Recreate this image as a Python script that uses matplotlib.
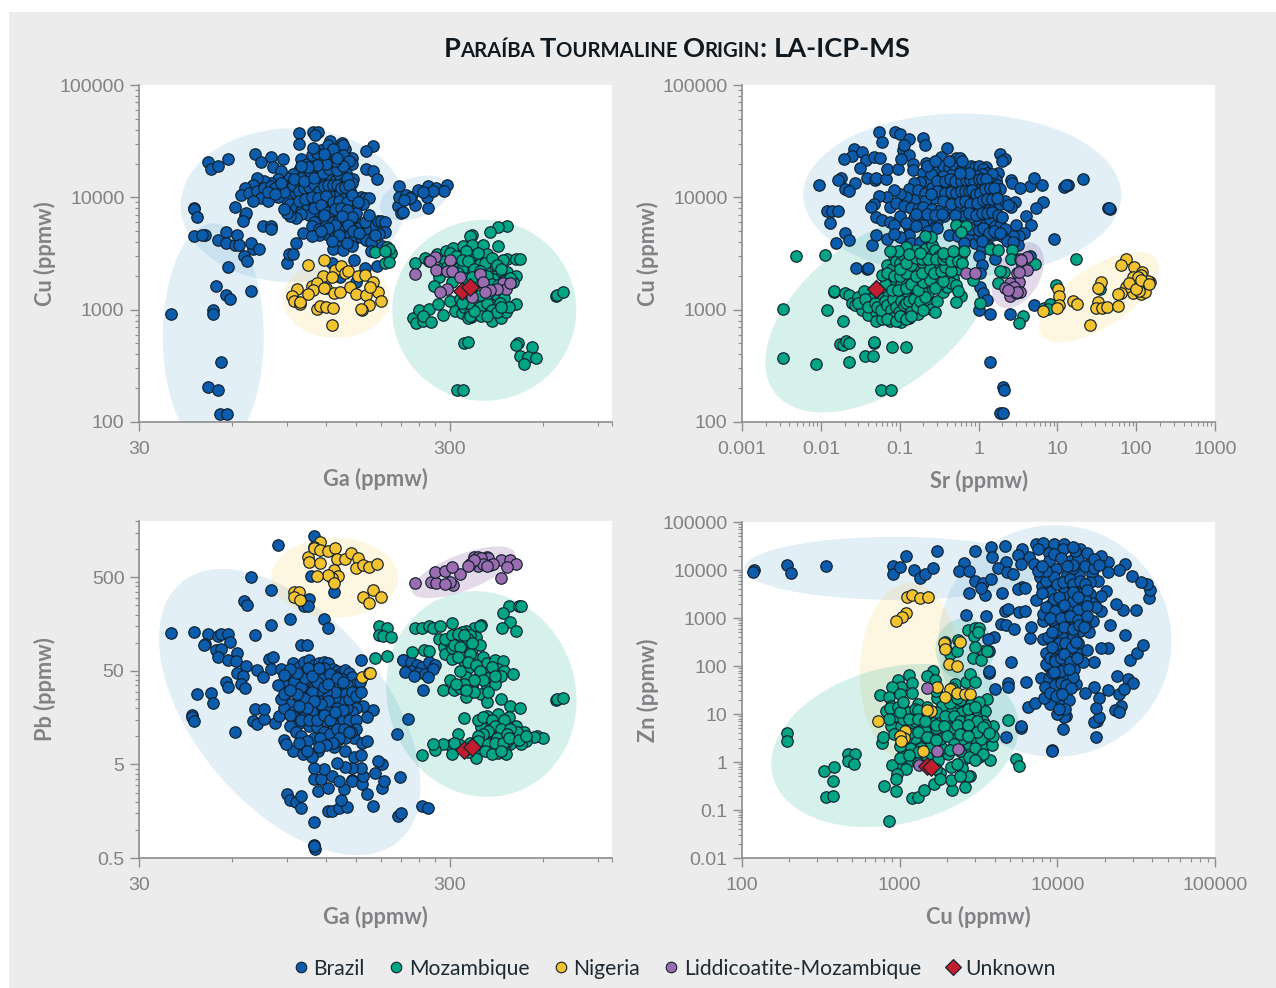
"""
Paraiba tourmaline origin chart, LA-ICP-MS trace element scatter panels.
All point values are in ppmw and were read off the printed figure.
"""
import matplotlib
matplotlib.use("Agg")
import matplotlib.pyplot as plt
from matplotlib.lines import Line2D
from matplotlib.patches import Ellipse, Rectangle
from matplotlib.ticker import LogLocator, NullFormatter
from matplotlib.transforms import IdentityTransform

plt.rcParams["font.family"] = ["Liberation Sans", "DejaVu Sans"]

W, H = 1276, 988

# Ga vs Cu
BRAZIL_GA_CU = [(38,920),(52,990),(52,915),(53,1620),(57,1350),(59,1240),(69,1460),(58,2380),(55,340),(50,206),(54,194),(54.5,119),(57.7,119),
    (50,20800),(51,17800),(54,19000),(58,22000),(45,8000),(45,7800),(46,6700),(45,4500),(49,4650),(48,4600),(54,4150),(57,4900),(57,3950),(61,3800),(62,4600),(63,3800),
    (70,3500),(69,3900),(73,3500),(65.5,3000),(67,2700),(75,5600),(80,5600),(80,5200),(90,2600),(91,3150),(94,3100),(96,3900),(101,4800),(61,8200),(66,7000),(66.5,7200),(65,6100),
    (71,24400),(74,20500),(80,22800),(87,21900),(81,18500),(98,37700),(98,29900),(109,38000),(113,38500),(111,36000),(124,32000),(135,30500),(138,27000),(136,29000),
    (170,28500),(162,25700),(146,22500),(145,19800),(162,17800),(170,17200),(175,14600),(139,16600),(147,14600),(146,13300),
    (206,12700),(205,8400),(209,7300),(212,7400),(206,10000),(217,10500),(225,10000),(232,8500),(255,8000),(238,11600),(256,12500),(272,12200),(295,13000),(288,11500),(253,10150),(265,11500),(224,9800),(246,11200),(214,9500),
    (100,22000),(104,20000),(108,24000),(112,26000),(116,22000),(120,27000),(124,23000),(128,25000),(132,20000),(118,18500),(110,18000),(126,19000),(136,24000),(142,21000),(122,17000),(114,15500),(106,16500),(98,17500),(94,16000),(90,15000),(86,17000),(84,14500),(80,13500),(76,14000),(72,14800),(70,13000),(66,12000),(64,10500),(68,11000),(72,11500),(76,12000),(80,12500),(84,11500),(88,13000),(92,12000),(96,13500),(100,15000),(104,13000),(108,14000),(112,12500),(116,13500),(120,14500),(124,15500),(128,14000),(132,16000),(136,13500),(140,15000),(128,12000),(124,11500),(118,11000),(112,10500),(106,11000),(100,10500),(94,10000),(90,9500),(84,10000),(78,10200),(74,9800),(70,9300),(78,9200),(92,8800),(96,8000),(100,7600),(104,8500),(108,9300),(113,8800),(118,9200),(123,9800),(128,10200),(133,11000),(138,10000),(143,11500),(148,9600),(155,10000),(160,9800),(165,9900),(158,8800),(150,8500),(143,8300),(136,8800),(130,8400),(124,8200),(118,7900),(112,7400),(106,6900),(100,7100),(96,6500),(92,6800),(90,7300),(88,7800),(145,7500),(150,7200),(140,7000),(134,7400),(128,6900),(122,6700),(116,6300),(110,6000),(108,5500),(114,5200),(120,5600),(126,6000),(132,6300),(138,6200),(144,6100),(150,5700),(156,5800),(165,5000),(170,5500),(176,6100),(160,5200),(152,5300),(144,5200),(138,5500),(132,5100),(126,4900),(120,4700),(114,4600),(108,4500),(128,4400),(134,4200),(142,4500),(148,4300),(155,4400),(162,4200),(168,4000),(137,3900),(130,3700),(126,3500),(136,3400),(145,3700),(180,6100),(186,6000),(186,4900),(178,4700),
    (148,2750),(168,3300),(182,3700),(160,2340),(175,2450),(125,2600),(133,1950),(150,1750),(116,26500),(122,29500),(112,25000),(109,27500),
    (88,11200),(94,12800),(98,11500),(102,12000),(106,12400),(110,13200),(114,11500),(118,12500),(122,13000),(126,13000),(130,13000),(134,12000),(138,12300),(142,13000),(95,14500),(102,14000),(110,15000),(117,16500),(123,18000),(130,17500),(136,19000),(128,21000),(120,20000),(112,19500),(105,18500),(100,19000),(126,27000),(118,24500),(130,22500),(82,12000),(86,13500),(78,11200),(82,10800),(98,9200),(103,9700),(108,10100),(113,9900),(120,10200),(126,9000),(132,9300),(140,9000),(146,10500),(152,9000),(110,8000),(116,8500),(122,7400),(128,7800),(134,8000),(140,7700),(146,6700),(135,6800),(128,5700),(122,5300),(116,5000),(118,6900),(141,5700),(147,5000),(153,4800),(160,6000),(165,7000),(172,4600),(132,4600),(125,4100),(140,3900)]
MOZ_GA_CU = [(460,5600),(430,5400),(405,4900),(355,4600),(350,4500),(660,1320),(665,1340),(695,1450),(335,505),(345,520),(318,194),(332,194),(498,500),(490,485),(553,470),(505,385),(535,377),(570,375),(520,330),
    (228,845),(233,760),(247,800),(240,990),(257,1015),(247,885),(262,770),(275,1120),(300,1190),(285,895),(312,970),(330,930),(172,3250),(188,3600),(195,3170),(186,2580),(191,3500),(186,3300),(191,2650),
    (232,2590),(250,2900),(258,2700),(273,3100),(292,3300),(307,3550),(332,3700),(355,3800),(385,3750),(430,3700),(395,3100),(355,3050),(375,2550),(405,2450),(460,2800),(490,2800),(505,2800),(445,2750),(430,2200),(460,2150),(490,2000),(480,1780),(415,1880),(370,1750),(305,1750),(278,1950),(268,1640),(312,2450),(345,2050),(375,1800),(305,2850),(370,3200),
    (325,1250),(352,1300),(375,1220),(415,1290),(450,1260),(490,1120),(430,1100),(390,1010),(365,960),(352,860),(412,785),(440,835),(455,960),(335,1060),(350,930),(368,1100),(405,1130),(422,955),(345,850),(348,880),(380,1000),(435,1150),(465,1050),(330,2300),(290,2700),(340,3350),(420,2500),(280,2300),
    (300,3200),(315,3000),(330,2750),(345,2700),(360,2300),(390,2600),(410,2900),(425,2500),(440,2300),(295,2400),(320,2100),(335,1900),(355,1950),(375,2200),(395,2000),(410,1700),(430,1650),(450,1800),(470,1900),(340,1250),(360,1150),(375,1050),(395,1150),(410,1000),(425,950),(440,1050),(380,880),(395,880),(360,980),(345,1150),(330,1150),(375,1350),(400,1400),(350,1450)]
NIGERIA_GA_CU = [(105,2500),(118,2750),(128,2270),(134,2470),(117,1990),(125,1960),(138,2100),(141,2230),(152,2000),(160,2050),(108,1640),(112,1710),(109,1500),(97,1520),(93,1320),(95,1190),(99,1120),(99,1160),(105,1370),(120,1570),(127,1420),(133,1440),(143,1580),(150,1370),(162,1350),(176,1450),(170,1750),(166,1580),(180,1190),(165,1100),(157,1000),(155,1010),(112,1010),(115,1080),(120,1060),(126,1030),(125,735),(118,1550)]
LIDD_GA_CU = [(270,2950),(260,2700),(302,2780),(232,2090),(272,2260),(295,2230),(305,2230),(325,1970),(375,2070),(385,1750),(445,1720),(455,1520),(470,1720),(295,1520),(280,1450),(425,1520),(405,1500),(390,1450),(355,1300)]
UNKNOWN_GA_CU = [(330,1480),(350,1590)]

# Sr vs Cu
BRAZIL_SR_CU = [(0.0096,12800),(0.055,38000),(0.06,31000),(0.087,38000),(0.1,36500),(0.13,33000),(0.2,34000),(0.21,29500),(0.4,27500),(0.0265,27000),(0.025,23500),(0.033,25500),(0.0195,22000),(0.037,21500),(0.047,23000),(0.057,22500),(0.031,18200),(0.038,14800),(0.048,14300),(0.05,15000),(0.068,14500),(0.07,18000),(0.018,15000),(0.0165,14300),(0.027,13300),(0.02,11900),(0.023,11400),(0.012,7500),(0.014,7500),(0.0165,7500),(0.013,5900),(0.0205,4800),(0.023,4150),(0.0155,3900),(0.045,3750),(0.05,4650),(0.07,4300),(0.028,2330),(0.039,2300),(0.04,2330),
    (1,1000),(1.4,920),(2.5,920),(5,1100),(1.03,1600),(1.15,1400),(1.3,1220),(1.4,340),(2.05,205),(2.1,193),(1.9,120),(2.05,120),(47,7950),(44,8000),(45,8000),(21,14500),(13.5,13000),(12.3,12300),(12.8,12900),(9,4300),(6.5,9100),(5.3,8000),(6.4,13000),(4.5,12700),(5,15000),(2.6,14300),(2.65,13300),(3.4,12000),(4,6800),(4.6,5700),(2.9,9100),(2.55,8200),(3,5700),(3.8,4800),(3.3,4500),(2.7,4500),(3.2,3800),(4.5,3000),(1.85,24500),(2.2,22000),(2,21000),(1.75,16500),(1.65,14300),(1.25,18700),
    (0.215,20400),(0.33,23000),(0.52,22300),(0.58,22600),(0.11,26500),(0.13,24000),(0.147,20000),(0.115,29000),(0.095,18000),(0.105,22000),(0.147,17500),
    (0.2,16500),(0.25,18000),(0.3,17000),(0.35,19000),(0.42,18500),(0.5,19000),(0.6,17500),(0.7,18000),(0.8,19000),(0.9,18500),(1.0,19000),(1.15,18000),(1.3,16500),(1.5,16000),(1.1,16000),(0.95,15500),(0.8,15000),(0.65,15000),(0.55,15500),(0.45,15800),(0.35,15500),(0.27,14500),(0.22,14000),(0.18,13800),(0.15,13500),(0.13,11800),(0.17,11700),(0.21,11000),(0.26,12000),(0.33,12500),(0.4,13000),(0.48,12500),(0.56,12800),(0.65,12500),(0.74,13500),(0.85,12800),(0.95,12000),(1.08,13300),(1.25,13000),(1.45,13500),(1.7,13000),(1.9,11800),(1.6,11000),(1.35,11000),(1.15,10800),(1.0,9800),(0.85,10500),(0.72,10200),(0.6,10000),(0.5,9500),(0.42,10000),(0.33,10300),(0.27,9800),(0.21,9300),(0.15,9400),(0.12,10000),(0.1,10800),(0.085,11700),(0.07,10000),(0.055,10300),(0.047,8800),(0.043,8200),(0.075,8200),(0.09,8900),(0.115,8400),(0.14,8000),(0.17,7800),(0.2,8200),(0.26,7800),(0.33,7900),(0.42,8000),(0.55,8200),(0.7,8000),(0.88,7500),(1.05,8200),(1.25,8300),(1.4,8200),(1.6,8600),(1.85,8800),(2.2,9300),(2.4,8500),(0.15,6500),(0.18,6100),(0.23,6000),(0.3,6200),(0.37,6800),(0.65,6800),(0.8,6700),(1.0,6200),(1.2,5700),(1.4,6400),(1.6,5500),(1.85,5600),(2.2,5200),(0.05,6700),(0.06,6300),(0.075,6000),(0.1,6800),(0.085,5700),(0.13,5300),(0.2,5700),(0.27,5300),(0.13,4600),(0.1,4400),(0.085,4700),(0.14,3900),(0.18,4000),(0.23,3700),(0.42,4600),(0.55,4500),(0.75,4300),(0.9,3900),(1.0,4500),(1.2,4500),(1.35,3600),(1.5,4600),(1.7,4700),(2,4500),(2.3,4100),(2.7,4000),(1.1,3500),(1.0,3000),(1.6,2800),(0.65,3900),(1.1,2500),(1.05,2100),
    (0.25,16000),(0.3,14000),(0.38,14000),(0.44,14500),(0.5,14000),(0.6,14000),(0.7,14300),(0.78,14200),(0.88,14000),(1.0,14500),(1.1,14500),(1.25,14500),(0.3,11500),(0.38,11000),(0.45,11200),(0.52,11000),(0.6,11500),(0.68,11500),(0.75,11500),(0.83,11600),(0.92,10800),(1.05,11000),(1.2,11900),(1.4,12200),(1.55,12000),(0.25,10600),(0.35,9200),(0.45,8800),(0.58,9000),(0.68,9200),(0.78,8800),(0.95,8900),(1.15,9500),(1.3,9600),(1.5,9600),(1.7,9800),(0.16,7100),(0.22,7100),(0.28,6900),(0.34,7100),(0.5,7000),(0.75,7300),(0.92,6900),(1.1,7200),(1.3,7200),(1.5,7400),(1.75,7000),(2,6700),(0.12,5900),(0.16,5500),(0.23,5000),(0.3,5300),(0.6,5500),(0.8,5200),(1.0,5100),(1.15,5300),(1.35,4800),(1.55,5000),(1.9,4800),(1.1,4100),(0.22,19000),(0.28,21000),(0.42,21000),(0.62,21000),(0.75,16500),(0.58,16500)]
MOZ_SR_CU = [(0.0033,1020),(0.0033,373),(0.0088,330),(0.0226,340),(0.0049,3000),(0.0113,3050),(0.012,985),(0.019,800),(0.0146,1450),(0.0147,1460),(0.0177,490),(0.019,480),(0.021,530),(0.0225,510),(0.047,500),(0.047,515),(0.08,470),(0.122,470),(0.036,385),(0.0465,385),(0.058,194),(0.078,194),
    (17,2830),(3.7,880),(3.3,755),(9.5,1660),(35,1530),(6.8,1030),(8,1120),(7.6,1010),(1.05,1140),(5.2,2550),(1.75,1720),(2.1,2150),(1.9,2200),(0.86,1850),(0.52,5700),(0.7,5600),(0.6,4900),(1.4,3450),(1.75,3400),(2.65,3400),(2.6,2850),(0.6,1330),(0.52,1180),
    (0.02,1400),(0.023,1350),(0.025,1150),(0.027,1100),(0.03,1300),(0.035,1480),(0.033,1000),(0.037,1150),(0.04,900),(0.042,1250),(0.045,1050),(0.05,950),(0.05,800),(0.055,1150),(0.06,1280),(0.06,820),(0.065,1050),(0.07,950),(0.072,1320),(0.075,790),(0.08,1150),(0.085,1000),(0.09,900),(0.095,1300),(0.1,1100),(0.105,780),(0.11,880),(0.11,1450),(0.12,1000),(0.125,1280),(0.13,850),(0.14,1150),(0.15,1020),(0.16,1350),(0.17,920),(0.19,1100),(0.22,1200),(0.25,1010),(0.28,960),(0.3,1200),(0.35,1450),(0.4,1600),(0.32,1680),(0.27,1750),(0.22,1600),(0.18,1750),(0.15,1600),(0.13,1850),(0.11,1700),(0.09,1650),(0.075,1780),(0.065,1700),(0.06,2050),(0.07,2500),(0.08,2300),(0.085,3000),(0.09,2700),(0.1,2600),(0.105,3300),(0.11,2350),(0.115,3000),(0.13,2750),(0.14,2200),(0.15,2700),(0.17,3000),(0.18,2300),(0.2,2600),(0.21,3500),(0.22,2150),(0.25,3000),(0.26,3800),(0.28,3400),(0.3,2500),(0.32,3000),(0.36,2250),(0.4,2600),(0.43,3100),(0.5,2950),(0.55,3200),(0.6,3000),(0.65,3300),(0.5,2400),(0.57,2300),(0.48,1900),(0.4,2000),(0.3,1950),(0.25,4400),(0.21,4500),(0.16,3400),(0.12,3600),(0.095,3350),(0.075,3300),(0.45,1720),(0.52,1650),(0.55,1480),(0.23,1400),(0.19,1450),
    (0.03,1150),(0.036,1250),(0.04,1050),(0.048,1150),(0.052,1050),(0.058,1000),(0.065,1200),(0.07,1100),(0.078,1000),(0.082,1250),(0.09,1050),(0.098,950),(0.105,1200),(0.115,1100),(0.12,1150),(0.13,1200),(0.14,950),(0.15,1250),(0.165,1050),(0.18,1200),(0.2,1000),(0.21,1300),(0.08,850),(0.07,830),(0.09,800),(0.1,870),(0.12,820),(0.14,880),(0.08,1500),(0.095,1500),(0.12,1550),(0.14,1700),(0.17,1500),(0.2,1750),(0.24,1850),(0.28,1550),(0.35,1800),(0.07,2100),(0.085,2000),(0.1,2000),(0.12,2100),(0.14,2500),(0.16,2000),(0.19,2100),(0.24,2300),(0.27,2100),(0.33,2200),(0.38,2400),(0.45,2200),(0.1,2300),(0.12,2600),(0.16,2900),(0.19,2800),(0.23,2800),(0.29,2800),(0.35,2800),(0.38,3000),(0.45,2700),(0.55,2700),(0.62,2600),(0.13,3100),(0.18,3200),(0.35,3200),(0.47,3300)]
NIGERIA_SR_CU = [(75,2800),(65,2500),(95,2400),(120,2150),(115,2050),(90,1950),(150,1750),(140,1800),(115,1580),(95,1500),(90,1400),(115,1380),(130,1450),(75,1600),(65,1400),(58,1380),(36,1770),(33,1550),(33,1180),(31,1030),(37,1030),(43,1060),(59,1080),(26,735),(16,1200),(18,1120),(10.2,1520),(10.5,1320),(10.5,1100),(9.9,1040),(6.5,980),(105,1970),(110,1480),(82,1720),(100,1520),(115,1820),(145,1700)]
LIDD_SR_CU = [(0.7,2100),(0.91,2100),(4.1,2950),(3.4,2850),(3.6,2500),(4.1,2250),(3.1,2100),(3.3,1770),(2.5,1720),(2.2,1550),(2.6,1500),(3.4,1440),(2.5,1330),(3,1400),(2.85,1600),(3.1,1450),(3.5,2780),(3.3,2150),(2.4,1500)]
UNKNOWN_SR_CU = [(0.05,1520),(0.0505,1540)]

# Ga vs Pb
BRAZIL_GA_PB = [(110,1390),(84,1115),(69,500),(80,365),(65.5,280),(67,255),(107,520),(127,345),(106,295),(102,245),(105,245),(92,180),(80,155),(118,178),(122,142),(38,128),(45,129),(50,123),(49,97),(48.5,95),(54,117),(55,125),(58,123),(59,102),(53,84),(55,85),(54,70),(58,66),(62,78),(61.5,64),(71,120),(100,95),(104,94),(66.5,56),(72,51),(62,47),(65,44),(57,38),(58,34),(64,36),(66,33),(46,28),(51,29),(52,22.5),(44.5,17),(44.5,16),(45,14.5),(61,11),(70,14.6),(72,13.5),(76,15.2),(88,9.1),(82,14),(78.5,67),(81,71),(80,52),(75,43),(71,19.5),(76,19.5),(85,16.5),
    (203,10.5),(220,15.3),(247,31),(207,3.7),(245,1.8),(255,1.7),(205,1.4),(210,1.5),(212,66),(155,66),(170,19.2),(158,21),(163,16),(90,2.4),(92,2.1),(96,2),(100,1.7),(100,2.3),(110,1.2),(110,0.69),(111,0.63),(110,0.68),(122,1.6),(125,1.6),(132,1.7),(140,1.75),(134,2.1),(137,2.7),(113,2.6),(122,2.8),(110,3.5),(116,3.5),(125,3.8),(132,3.3),(146,3.4),(146,3.3),(157,3.1),(163,2.4),(170,1.8),(182,2.8),(185,3.3),(172,4.1),(182,5),(177,5.5),(158,3.8),(156,4.6),(146,4.6),(138,4.7),(130,5.2),(118,4.5),(110,4.6),(113,7),(127,7.7),(130,8.9),(138,7),(148,6),(155,6.3),(148,9.5),(157,8.5),(163,8.8),(103,8.4),(94,7),(101,6.4),(108,6),(89,8.2),
    (86,52),(90,48),(94,60),(98,55),(102,62),(106,66),(110,58),(114,60),(118,62),(122,60),(126,53),(130,50),(134,48),(138,51),(142,47),(146,43),(150,36),(154,38),(148,30),(140,35),(135,41),(128,44),(122,46),(116,48),(110,44),(104,46),(98,42),(92,40),(88,36),(84,35),(90,30),(96,33),(102,36),(108,38),(114,35),(120,38),(126,36),(132,31),(138,28),(144,24),(150,20),(146,18),(140,20),(134,23),(128,26),(122,28),(116,26),(110,28),(104,30),(98,25),(92,22),(88,20),(94,18),(100,20),(106,23),(112,21),(118,20),(124,19),(130,16),(136,15),(142,15),(150,15),(126,13.5),(120,14.5),(114,16),(108,18),(102,16),(98,14),(92,13),(96,11),(100,10),(106,13),(112,12.5),(118,11),(124,10.5),(110,9.5),(104,9),(115,9.5),(130,12),(137,12),(110,33),(116,42),(124,32),(132,37),(100,27),(86,25),
    (212,66),(225,62),(235,58),(245,55),(258,62),(270,58),(225,50),(238,48),(250,46),(265,52),(215,49),(230,44),(255,43),
    (88,28),(95,38),(100,34),(103,42),(107,50),(112,52),(118,54),(124,46),(130,42),(136,38),(128,30),(120,30),(114,31),(108,30),(103,25),(97,28),(92,31),(97,48),(92,52),(88,45),(105,54),(112,38),(118,34),(122,24),(116,22),(110,24),(104,20),(98,21),(92,17),(100,15),(106,15),(112,15),(118,17),(124,15),(130,20),(136,19),(142,25),(146,30),(150,27),(155,30),(150,12),(144,11),(138,9.5),(132,9.5),(126,8.5),(120,8),(114,7.6),(98,8.5),(104,7),(142,11),(128,18),(122,36),(108,44),(114,54)]
MOZ_GA_PB = [(660,24.5),(665,25),(695,25.5),(465,245),(445,210),(500,245),(510,247),(470,165),(443,145),(490,135),(178,150),(188,145),(178,120),(183,117),(195,115),(172,68),(188,72),(232,145),(245,142),(257,150),(265,145),(280,150),(305,162),(380,155),(360,142),(340,135),(330,130),(365,115),(375,150),(278,110),(305,108),(328,105),(288,90),(315,80),(340,90),(355,85),(227,79),(248,83),(258,81),(290,76),(305,67),(335,64),(360,68),(385,71),(395,60),(420,65),(445,63),(345,54),(395,48),(430,52),(450,50),(480,46),(440,44),(400,42),(370,42),(340,43),(355,36),(395,34),(420,36),(300,40),(285,31),(310,31),(340,26),(355,34),(325,33),(380,28),(395,23),(440,25),(470,21),(505,20),
    (335,15.5),(395,16.5),(430,17.5),(465,16),(490,13),(520,11),(575,10),(600,9.5),(560,9.8),(530,8.8),(510,8.2),(460,13),(430,13),(400,14),(380,12.5),(410,11),(445,10.5),(480,9.6),(470,8.3),(450,7.5),(430,8.2),(395,9),(365,7.2),(365,5.8),(400,7),(430,6.7),(455,6.4),(397,7.8),(320,10.5),(300,8.1),(285,8.3),(305,6.5),(270,7.2),(245,6.3),(265,8.2),(340,7.5),(375,7.5),(410,9.5),(460,9),(495,11),(420,7.2),(440,7.8),(385,8.2),(415,8.6),(435,9.4),(300,100),(290,110),(320,100),(305,88),(350,120),(375,95),
    (305,120),(320,125),(345,110),(355,100),(335,120),(310,95),(325,90),(350,75),(320,70),(345,62),(365,58),(375,50),(410,55),(420,44),(385,40),(360,40),(335,36),(315,36),(325,50),(360,30),(340,31),(400,30),
    (370,15),(385,16),(410,15),(450,15),(420,13),(440,12),(470,12),(400,11.5),(385,10.5),(370,10),(425,9.5),(460,10.5),(350,8.5),(370,8.8),(400,8.3),(420,8.4),(445,8.4),(465,9.7),(500,9.2),(530,10),(390,7),(410,6.5),(440,7),(345,6.8),(355,7.8),(325,8),(310,8.5)]
NIGERIA_GA_PB = [(105,830),(106,725),(115,1200),(110,1050),(110,1020),(115,980),(122,950),(128,1020),(115,720),(130,780),(138,780),(144,900),(152,800),(150,625),(158,670),(165,640),(175,700),(127,600),(131,520),(125,495),(122,530),(112,520),(127,440),(95,345),(98,350),(95,305),(99,285),(170,370),(180,310),(158,305),(165,265),(157,43),(165,47),(166,47)]
LIDD_GA_PB = [(232,430),(262,445),(272,440),(307,415),(325,545),(270,570),(290,590),(305,650),(360,830),(395,830),(400,795),(370,660),(405,670),(440,760),(470,760),(490,690),(460,640),(440,490),(350,700),(415,700),(370,830),(380,800),(385,700),(395,660),(360,760),(345,660),(300,450),(290,420)]
UNKNOWN_GA_PB = [(335,7.1),(355,7.7)]

# Cu vs Zn
BRAZIL_CU_ZN = [(119,10000),(118,9000),(192,12700),(205,8800),(339,12300),(910,12300),(910,8200),(1010,11400),(1090,20000),(1730,25300),(1230,10000),(1350,6800),(1440,8200),(1620,11000),(3000,25300),(2550,14000),(2380,9700),(2750,9400),(3000,5800),(3800,29700),(3850,18400),(4650,31200),(4700,14500),(4200,11000),(4800,8900),(5250,8200),(3400,5300),(3500,3000),(2750,3300),(4450,3300),(3800,6500),(3300,4300),(6000,4500),(5600,4000),(6200,4200),
    (2650,1170),(3550,1100),(4630,1420),(4850,1530),(5700,1310),(6200,1420),(7300,2350),(4400,750),(4700,700),(5300,590),(3950,400),(3650,370),(6700,380),(6800,650),(8100,880),(8100,370),(3700,210),(5100,120),(3700,72),(3700,80),(4900,44),(4900,37),(4000,33),(6300,46),(5900,5.2),(5900,5.6),(4700,3.3),(10800,4.8),(6500,13.7),(7200,17),(9200,1.75),(9300,1.7),(17600,3.3),(17800,7.2),(17100,6.7),(18500,8.5),(11300,9),(11000,8.5),(9900,10),(9000,16),
    (25200,14.5),(23200,12),(24500,11),(24600,26),(17000,37),(18500,22),(17600,13.5),(21000,32),(24000,63),(28000,54),(30000,45),(26500,33),(29000,136),(20900,240),(19000,240),(32000,190),(35000,270),(27000,440),(21500,720),(31500,1440),(26000,1500),(23500,2000),(38000,2650),(38500,3900),(37000,5200),(34000,5700),(29800,7400),(27000,13300),(24500,10000),(21000,14500),(19000,20000),(20500,3700),(19000,2900),(19000,1370),
    (7300,35000),(8100,37000),(9500,34000),(11000,34000),(14000,27000),(10900,27000),(8800,23000),(7500,27000),(6600,19000),(6000,27000),(5600,21000),(7100,13500),(5900,13500),(8900,15200),(9800,10500),(12000,15500),(15800,13300),(13800,8300),(16500,8300),(11600,8000),(13500,18000),(21000,8900),
    (7800,7000),(8000,4700),(9300,5500),(9000,3400),(8000,3300),(13500,4400),(11500,5200),(11000,3400),(16000,3100),(16700,2100),(14500,1900),(12200,1650),(10500,1600),(9100,1950),(8100,1200),(9700,700),(11000,840),(14000,530),(16800,880),(11700,510),(9800,340),(8700,400),(8500,190),(9900,200),(11400,150),(14000,220),(15800,500),(15500,220),(17000,120),(14500,120),(12700,88),(11500,100),(8800,95),(8500,110),(7900,57),(8800,55),(9900,49),(11500,57),(13200,42),(15000,28),(10800,37),(9700,33),(8400,37),(8200,22),(10500,19),(11900,20),(9000,150),(9700,140),(10500,260),(11900,285),(12700,150),(10000,1200),(9200,900),(13000,1200),(14500,880),(11500,2700),(10300,1650),(14200,3100),(12300,1550),
    (15000,12000),(12500,11000),(17000,11000),(18000,6000),(16000,5500),(12500,2300),(15000,2500),(17500,1700),(13000,700),(15000,700),(10500,450),(12500,400),(13500,300),(11000,120),(12500,60),(10000,75),(9200,70),
    (8500,6000),(9500,7000),(10000,5000),(10800,5700),(12000,6500),(12500,5000),(14000,6000),(15000,5000),(9500,2500),(10200,2800),(12500,3500),(13500,2800),(15500,3800),(8500,1700),(9700,1400),(11000,1900),(13500,1500),(15500,1800),(9000,1000),(10500,1000),(12000,1100),(13500,900),(15500,1100),(10000,550),(11000,650),(12500,600),(13700,700),(14800,650),(9300,500),(10200,300),(11200,300),(12300,250),(13200,320),(9200,250),(9700,130),(10500,150),(11000,180),(12000,120),(13300,150),(10500,80),(9500,75),(11800,85),(9600,40),(10500,45),(11300,40),(12200,35),(9000,28),(9800,24),(10700,26),(11200,13),(10300,13),(12500,13000),(13000,25000),(9500,22000),(12500,30000),(15500,23000),(17000,17000),(18500,12500),(8500,9500),(7500,9500),(8000,12000),(10500,18000),(11500,12000)]
MOZ_CU_ZN = [(193,4.1),(193,2.8),(330,0.66),(385,0.78),(470,1.5),(520,1.5),(470,1.05),(510,0.92),(380,0.4),(340,0.19),(375,0.2),(860,0.06),(800,0.32),(950,0.25),(1190,0.18),(1300,0.185),(1420,0.26),(1640,0.34),(2150,0.26),(2600,0.3),(2800,0.5),(5500,1.13),(5700,0.83),(4900,7.5),
    (2700,550),(3000,630),(3200,630),(2950,430),(3150,500),(3400,210),(3000,245),(2900,150),(3300,135),(3600,205),(1950,320),(2350,340),(2100,180),(2300,205),(1950,250),
    (1620,80),(1500,63),(1680,50),(2250,42),(2650,46),(2800,68),(3000,47),(3600,21),(1140,66),(980,50),(1020,37),(900,37),(1200,44),(750,25),(850,23),(770,2.5),(780,3.3),
    (880,14.5),(1020,14.5),(1150,11),(1300,16),(950,9),(880,5.6),(1020,5.6),(1160,5.2),(1350,5.6),(1620,7.2),(1720,22),(2120,12.5),(2480,11),(2820,16),(3500,11.5),(3400,7.2),(3050,9),(2500,7.3),(2110,6.7),(1950,4.6),(2250,3.5),(2600,4.8),(3050,3),(3400,4),(3900,5.5),(3400,2.3),(3850,2.3),(3200,1.3),(3750,1.1),(2700,2),(2550,1.15),(2130,0.77),(2130,0.43),(2020,1.45),(1620,4),(1350,2.2),(1160,2),(1050,1.5),(1160,1.05),(1020,0.87),(900,0.87),(1100,0.7),(960,0.57),(950,0.45),(1800,0.6),(2700,0.5),(2480,0.76),(1530,2),(1850,2),(2800,1.45),(1340,10),
    (820,11.5),(870,13.5),(970,14),(1260,3.2),(1360,2),(1100,3.2),(920,3.8),(2600,5.5),(2120,5.2),(1800,8),(1550,8),(1700,5.2),(3000,5.2),(3900,3.5),(1250,13),(1500,14),(1850,15),(2300,18),(3200,18),(3000,12),(2500,3),(1800,3),(1450,4.5),(1250,7),(1050,8),(3300,3),(2900,6.5),(3500,6),
    (1300,12),(1500,10),(1700,11),(1950,9),(2200,9),(2400,7),(2800,8),(3100,7),(2100,17),(2400,20),(2700,13),(3000,14),(1000,11),(1150,8),(1300,8),(1450,7),(1700,6),(1900,5.5),(2300,6),(2700,6),(3100,4.2),(3400,5.4),(3700,4),(1000,3.5),(1150,4),(1300,4.2),(1500,3.3),(1700,2.9),(2000,3.5),(2200,2.4),(2400,3.8),(2700,3.4),(3000,2),(1000,2.2),(1300,1.6),(1500,1.3),(1750,1.1),(2100,1.8),(2400,1.7),(2750,1.3),(3400,1.5),(3000,1.1),(1000,1.2),(1150,1.4),(1300,0.95),(1700,0.7),(2300,0.9),(2400,0.5),(1800,0.45),(2300,22),(1700,30),(2150,35),(1200,28),(1000,26),(850,8),(1050,18)]
NIGERIA_CU_ZN = [(1120,2800),(1200,3000),(1350,2600),(1510,2800),(1100,1270),(1040,1030),(950,850),(2430,320),(1900,300),(1930,230),(2050,110),(2300,100),(1720,36),(2100,33),(1950,23),(2300,28),(2600,26),(2780,26),(1580,11.5),(1490,12),(730,7),(1080,4.5),(1060,3.2),(1000,3.5),(1020,2.8),(1410,1.7)]
LIDD_CU_ZN = [(1490,35),(1730,1.7),(2340,1.9),(1320,0.85)]
UNKNOWN_CU_ZN = [(1490,0.83),(1590,0.77)]

BRAZIL_COLOR = "#0B5CAD"
MOZ_COLOR = "#00A586"
NIGERIA_COLOR = "#F3C22F"
LIDD_COLOR = "#9A6DB0"
UNKNOWN_COLOR = "#BE1E2D"

ELL_BLUE = ("#0071BC", 0.11)
ELL_TEAL = ("#00A68C", 0.16)
ELL_YELLOW = ("#F2C12E", 0.14)
ELL_PURPLE = ("#784696", 0.20)

TICK_COLOR = "#808285"
AXIS_COLOR = "#8C8E90"

# ellipse outlines, in image pixels: cx, cy, width, height, angle, colour
ELLIPSES_A = [(292.7, 205.3, 224, 154, 0, ELL_BLUE), (213.3, 336.7, 101, 227, 0, ELL_BLUE), (414.3, 198, 72, 40, 20, ELL_BLUE),
              (484.3, 310.3, 184, 181, 0, ELL_TEAL), (336.3, 299, 107, 78, 0, ELL_YELLOW)]
ELLIPSES_B = [(962.3, 195, 318, 163, 0, ELL_BLUE), (880, 313, 264, 150, 37, ELL_TEAL),
              (1017.7, 275.3, 72, 44, 60, ELL_PURPLE), (1099, 297, 138, 60, 33, ELL_YELLOW)]
ELLIPSES_C = [(289.7, 712, 338, 190, -50, ELL_BLUE), (334.7, 577.7, 127, 80, 0, ELL_YELLOW),
              (463.3, 572.3, 110, 36, 21, ELL_PURPLE), (481.3, 694, 208, 188, -70, ELL_TEAL)]
ELLIPSES_D = [(895, 568.3, 301, 63, 0, ELL_BLUE), (1055, 641, 233, 232, 0, ELL_BLUE), (910, 673, 100, 180, 0, ELL_YELLOW),
              (895, 745.5, 252, 156, 14, ELL_TEAL), (965, 649, 59, 62, 0, ELL_TEAL)]


def style_axis(ax, xlim, ylim):
    ax.set_xscale("log")
    ax.set_yscale("log")
    ax.set_xlim(*xlim)
    ax.set_ylim(*ylim)
    for side in ("top", "right"):
        ax.spines[side].set_visible(False)
    for side in ("left", "bottom"):
        ax.spines[side].set_color(AXIS_COLOR)
        ax.spines[side].set_linewidth(1.2)
    ax.tick_params(which="major", length=6.5, width=1.0, color=AXIS_COLOR, labelcolor=TICK_COLOR, labelsize=14)
    ax.tick_params(which="minor", length=3.2, width=0.8, color=AXIS_COLOR)
    ax.tick_params(axis="x", which="major", pad=7)
    ax.tick_params(axis="y", which="major", pad=4)
    ax.xaxis.set_minor_formatter(NullFormatter())
    ax.yaxis.set_minor_formatter(NullFormatter())


def decade_ticks(axis, values):
    axis.set_ticks(values, [f"{v:g}" for v in values])
    axis.set_minor_locator(LogLocator(base=10, subs=range(2, 10), numticks=30))
    axis.set_minor_formatter(NullFormatter())


def draw_points(ax, brazil, moz, nigeria, lidd, unknown):
    groups = [(brazil, BRAZIL_COLOR, "o", 68), (moz, MOZ_COLOR, "o", 68), (nigeria, NIGERIA_COLOR, "o", 68),
              (lidd, LIDD_COLOR, "o", 68), (unknown, UNKNOWN_COLOR, "D", 80)]
    for i, (pairs, color, marker, size) in enumerate(groups):
        xs, ys = zip(*pairs)
        ax.scatter(xs, ys, s=size, c=color, marker=marker, edgecolors="#10202C", linewidths=0.85, zorder=3 + i)


def draw_ellipses(ax, ellipses):
    for cx, cy, w, h, angle, (color, alpha) in ellipses:
        patch = Ellipse((cx, H - cy), w, h, angle=angle, facecolor=color, alpha=alpha, edgecolor="none",
                        transform=IdentityTransform(), zorder=1)
        ax.add_patch(patch)
        patch.set_clip_path(ax.patch)


def make_axes(fig, left, right, top, bottom):
    ax = fig.add_axes([left / W, 1 - bottom / H, (right - left) / W, (bottom - top) / H])
    ax.set_facecolor("white")
    return ax


def small_caps_title(fig, runs, center_x, baseline_y):
    renderer = fig.canvas.get_renderer()
    placed = []
    x = 0
    for piece, size in runs:
        # non-breaking spaces get measured, plain trailing spaces do not
        t = fig.text(0, 1 - baseline_y / H, piece.replace(" ", "\u00a0"), fontsize=size, fontweight="bold",
                     family="Lato", color="#101820", va="baseline", ha="left")
        placed.append((t, x))
        x += t.get_window_extent(renderer).width
    for t, offset in placed:
        t.set_x((center_x - x / 2 + offset) / W)


fig = plt.figure(figsize=(W / 100, H / 100), dpi=100, facecolor="white")
fig.add_artist(Rectangle((9 / W, 0), 1 - 9 / W, 1 - 12 / H, transform=fig.transFigure, facecolor="#ECECEC", edgecolor="none", zorder=-5))

ax_a = make_axes(fig, 139, 612, 85, 422)
ax_b = make_axes(fig, 742, 1215, 85, 422)
ax_c = make_axes(fig, 139, 612, 521, 858)
ax_d = make_axes(fig, 742, 1215, 522, 858)

draw_ellipses(ax_a, ELLIPSES_A)
draw_ellipses(ax_b, ELLIPSES_B)
draw_ellipses(ax_c, ELLIPSES_C)
draw_ellipses(ax_d, ELLIPSES_D)

draw_points(ax_a, BRAZIL_GA_CU, MOZ_GA_CU, NIGERIA_GA_CU, LIDD_GA_CU, UNKNOWN_GA_CU)
draw_points(ax_b, BRAZIL_SR_CU, MOZ_SR_CU, NIGERIA_SR_CU, LIDD_SR_CU, UNKNOWN_SR_CU)
draw_points(ax_c, BRAZIL_GA_PB, MOZ_GA_PB, NIGERIA_GA_PB, LIDD_GA_PB, UNKNOWN_GA_PB)
draw_points(ax_d, BRAZIL_CU_ZN, MOZ_CU_ZN, NIGERIA_CU_ZN, LIDD_CU_ZN, UNKNOWN_CU_ZN)

style_axis(ax_a, (30, 1000), (100, 100000))
style_axis(ax_b, (0.001, 1000), (100, 100000))
style_axis(ax_c, (30, 1000), (0.5, 2000))
style_axis(ax_d, (100, 100000), (0.01, 100000))

# Ga axes step in multiples of 30 rather than powers of ten
GA_MAJOR = [30, 300]
GA_MINOR = [60, 90, 120, 150, 180, 210, 240, 270, 600, 900, 1000]
for ax in (ax_a, ax_c):
    ax.set_xticks(GA_MAJOR, [str(v) for v in GA_MAJOR])
    ax.set_xticks(GA_MINOR, minor=True)
    ax.xaxis.set_minor_formatter(NullFormatter())

decade_ticks(ax_a.yaxis, [100, 1000, 10000, 100000])
decade_ticks(ax_b.yaxis, [100, 1000, 10000, 100000])
decade_ticks(ax_b.xaxis, [0.001, 0.01, 0.1, 1, 10, 100, 1000])
decade_ticks(ax_d.xaxis, [100, 1000, 10000, 100000])
decade_ticks(ax_d.yaxis, [0.01, 0.1, 1, 10, 100, 1000, 10000, 100000])

# Pb axis steps in decades from 0.5
PB_MAJOR = [0.5, 5, 50, 500]
PB_MINOR = [d * m for d in PB_MAJOR for m in range(2, 11) if d * m <= 2000 and d * m not in PB_MAJOR]
ax_c.set_yticks(PB_MAJOR, [f"{v:g}" for v in PB_MAJOR])
ax_c.set_yticks(PB_MINOR, minor=True)
ax_c.yaxis.set_minor_formatter(NullFormatter())

LABEL_KW = dict(fontsize=15.7, fontweight="bold", family="Lato", color=TICK_COLOR)
ax_a.set_xlabel("Ga (ppmw)", **LABEL_KW)
ax_b.set_xlabel("Sr (ppmw)", **LABEL_KW)
ax_c.set_xlabel("Ga (ppmw)", **LABEL_KW)
ax_d.set_xlabel("Cu (ppmw)", **LABEL_KW)
ax_a.set_ylabel("Cu (ppmw)", **LABEL_KW)
ax_b.set_ylabel("Cu (ppmw)", **LABEL_KW)
ax_c.set_ylabel("Pb (ppmw)", **LABEL_KW)
ax_d.set_ylabel("Zn (ppmw)", **LABEL_KW)
ax_a.xaxis.set_label_coords(0.5, -(479 - 422) / 337, transform=ax_a.transAxes)
ax_b.xaxis.set_label_coords(0.5, -(481 - 422) / 337, transform=ax_b.transAxes)
ax_c.xaxis.set_label_coords(0.5, -(917 - 858) / 337, transform=ax_c.transAxes)
ax_d.xaxis.set_label_coords(0.5, -(917 - 858) / 336, transform=ax_d.transAxes)
for ax in (ax_a, ax_b, ax_c, ax_d):
    ax.xaxis.label.set_va("center")
    ax.yaxis.label.set_va("center")
    ax.yaxis.set_label_coords(-(139 - 45) / 473, 0.5, transform=ax.transAxes)

fig.canvas.draw()
small_caps_title(fig, [("P", 19.6), ("ARAÍBA ", 14.6), ("T", 19.6), ("OURMALINE ", 14.6), ("O", 19.6), ("RIGIN", 14.6),
                       (": ", 19.6), ("LA-ICP-MS", 19.6)], 677, 57)

handles = [Line2D([], [], ls="none", marker="o", ms=7.6, mfc=BRAZIL_COLOR, mec="#10202C", mew=0.8, label="Brazil"),
           Line2D([], [], ls="none", marker="o", ms=7.6, mfc=MOZ_COLOR, mec="#10202C", mew=0.8, label="Mozambique"),
           Line2D([], [], ls="none", marker="o", ms=7.6, mfc=NIGERIA_COLOR, mec="#10202C", mew=0.8, label="Nigeria"),
           Line2D([], [], ls="none", marker="o", ms=7.6, mfc=LIDD_COLOR, mec="#10202C", mew=0.8, label="Liddicoatite-Mozambique"),
           Line2D([], [], ls="none", marker="D", ms=8.5, mfc=UNKNOWN_COLOR, mec="#10202C", mew=0.8, label="Unknown")]
fig.legend(handles=handles, ncol=5, loc="center", bbox_to_anchor=(673 / W, 1 - 968.5 / H), frameon=False,
           prop={"family": "Lato", "size": 15.2}, labelcolor="#1E2A32", handletextpad=0.1, columnspacing=0.98, handlelength=1.0,
           borderpad=0, borderaxespad=0)

fig.savefig("out.png", dpi=100)
